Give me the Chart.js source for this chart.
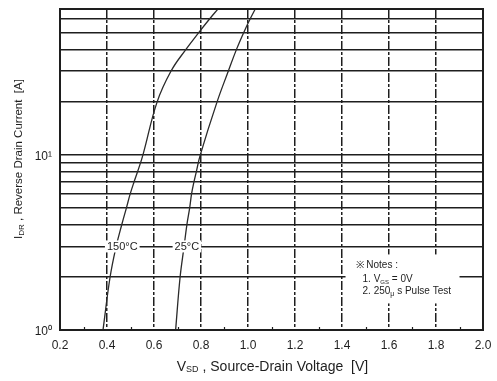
<!DOCTYPE html>
<html>
<head>
<meta charset="utf-8">
<script src="https://cdn.jsdelivr.net/npm/chart.js@4/dist/chart.umd.min.js"></script>
<style>
  html, body { margin: 0; padding: 0; background: #fff; }
  #wrap { width: 497px; height: 381px; }
</style>
</head>
<body>
<div id="wrap"><canvas id="c" width="497" height="381"></canvas></div>
<script>
// Reverse drain current levels (A) and the source-drain voltage (V) at each level
const currentLevels = [1, 2, 3, 4, 5, 6, 7, 8, 10, 20, 30, 40, 50, 60, 68];
const vsdAt150C = [0.383, 0.413, 0.439, 0.463, 0.483, 0.499, 0.515, 0.530, 0.553, 0.613, 0.672, 0.736, 0.791, 0.838, 0.872];
const vsdAt25C  = [0.692, 0.711, 0.728, 0.740, 0.752, 0.760, 0.770, 0.780, 0.797, 0.868, 0.916, 0.951, 0.982, 1.010, 1.031];

// Axis ticks
const xTicks = [0.2, 0.3, 0.4, 0.5, 0.6, 0.7, 0.8, 0.9, 1.0, 1.1, 1.2, 1.3, 1.4, 1.5, 1.6, 1.7, 1.8, 1.9, 2.0];
const yTicks = [1, 2, 3, 4, 5, 6, 7, 8, 9, 10, 20, 30, 40, 50, 60, 68];
const yTickLabels = { 1: '10\u2070', 10: '10\u00B9' };

const seriesNames = ['150\u00B0C', '25\u00B0C'];

const FONT = 'Liberation Sans, Arial, Helvetica, sans-serif';
const INK = '#1e1e1e';

const toPoints = (vs) => vs.map((v, i) => ({ x: v, y: currentLevels[i] }));
const isMajorX = (v) => Math.round(v * 10) % 2 === 0;

// Draws a run of text pieces (some as subscripts), aligned around (x, y)
function drawRuns(ctx, runs, x, y, align) {
  let total = 0;
  runs.forEach(r => {
    ctx.font = r.size + 'px ' + FONT;
    r.w = ctx.measureText(r.t).width;
    total += r.w;
  });
  let cx = align === 'center' ? x - total / 2 : x;
  ctx.textBaseline = 'middle';
  ctx.textAlign = 'left';
  runs.forEach(r => {
    ctx.font = r.size + 'px ' + FONT;
    ctx.fillText(r.t, cx, y + (r.dy || 0));
    cx += r.w;
  });
  return total;
}

const decor = {
  id: 'decor',
  afterDraw(chart) {
    const { ctx, chartArea: a, scales: { x, y } } = chart;
    ctx.save();
    ctx.fillStyle = INK;
    ctx.strokeStyle = INK;

    // minor x ticks along the bottom edge
    ctx.lineWidth = 1.2;
    xTicks.filter(v => !isMajorX(v)).forEach(v => {
      const px = Math.round(x.getPixelForValue(v)) + 0.5;
      ctx.beginPath();
      ctx.moveTo(px, a.bottom);
      ctx.lineTo(px, a.bottom - 3);
      ctx.stroke();
    });

    // plot frame
    ctx.lineWidth = 2;
    ctx.strokeRect(a.left, a.top, a.right - a.left, a.bottom - a.top);

    // curve labels on a white ground
    const labelY = y.getPixelForValue(3);
    ctx.font = '11px ' + FONT;
    [[0.465, seriesNames[0]], [0.740, seriesNames[1]]].forEach(([v, t]) => {
      const cx = x.getPixelForValue(v);
      const w = ctx.measureText(t).width;
      ctx.fillStyle = '#fff';
      ctx.fillRect(cx - w / 2 - 2, labelY - 6, w + 4, 12);
      ctx.fillStyle = INK;
      ctx.textAlign = 'center';
      ctx.textBaseline = 'middle';
      ctx.fillText(t, cx, labelY + 1);
    });

    // notes block
    const nx = x.getPixelForValue(1.415);
    const ny = y.getPixelForValue(2.7);
    ctx.fillStyle = '#fff';
    ctx.fillRect(nx, ny, 114, 49);
    ctx.fillStyle = INK;
    drawRuns(ctx, [{ t: '\u203B Notes :', size: 10 }], nx + 10, ny + 11, 'left');
    drawRuns(ctx, [{ t: '1. V', size: 10 }, { t: 'GS', size: 6, dy: 3 }, { t: ' = 0V', size: 10 }], nx + 17, ny + 25, 'left');
    drawRuns(ctx, [{ t: '2. 250', size: 10 }, { t: '\u03BC', size: 7, dy: 3 }, { t: ' s Pulse Test', size: 10 }], nx + 17, ny + 37, 'left');

    // axis titles
    drawRuns(ctx, [{ t: 'V', size: 14 }, { t: 'SD', size: 9, dy: 3 }, { t: ' , Source-Drain Voltage  [V]', size: 14 }],
      (a.left + a.right) / 2 + 1, 367, 'center');
    ctx.translate(19, 159);
    ctx.rotate(-Math.PI / 2);
    drawRuns(ctx, [{ t: 'I', size: 11.5 }, { t: 'DR', size: 8, dy: 3 }, { t: ' , Reverse Drain Current  [A]', size: 11.5 }],
      0, 0, 'center');
    ctx.restore();
  }
};

new Chart(document.getElementById('c'), {
  type: 'line',
  data: {
    datasets: [
      { label: seriesNames[0], data: toPoints(vsdAt150C) },
      { label: seriesNames[1], data: toPoints(vsdAt25C) }
    ]
  },
  options: {
    responsive: false,
    animation: false,
    devicePixelRatio: 1,
    layout: { padding: { left: 0, right: 14, top: 9, bottom: 0 } },
    elements: {
      line: { borderColor: '#2a2a2a', borderWidth: 1.3, tension: 0.4, fill: false },
      point: { radius: 0, hoverRadius: 0 }
    },
    plugins: { legend: { display: false }, tooltip: { enabled: false } },
    scales: {
      x: {
        type: 'linear',
        min: 0.2,
        max: 2.0,
        afterBuildTicks: (s) => { s.ticks = xTicks.map(v => ({ value: v })); },
        afterFit: (s) => { s.height = 51; s.paddingLeft = 0; s.paddingRight = 0; },
        grid: {
          drawTicks: false,
          lineWidth: 1.5,
          color: (c) => (c.tick && isMajorX(c.tick.value) && c.tick.value > 0.25 && c.tick.value < 1.95) ? INK : 'rgba(0,0,0,0)'
        },
        border: { display: false, dash: [9, 2, 3, 2] },
        ticks: {
          autoSkip: false,
          maxRotation: 0,
          padding: 8,
          color: INK,
          font: { family: FONT, size: 12 },
          callback: (v) => isMajorX(v) ? Number(v).toFixed(1) : ''
        }
      },
      y: {
        type: 'logarithmic',
        min: 1,
        max: 68,
        afterBuildTicks: (s) => { s.ticks = yTicks.map(v => ({ value: v })); },
        afterFit: (s) => { s.width = 60; s.paddingTop = 0; s.paddingBottom = 0; },
        grid: { drawTicks: false, lineWidth: 1.6, color: INK },
        border: { display: false },
        ticks: {
          autoSkip: false,
          padding: 8,
          labelOffset: 2,
          color: INK,
          font: { family: FONT, size: 12 },
          callback: (v) => yTickLabels[v] || ''
        }
      }
    }
  },
  plugins: [decor]
});
</script>
</body>
</html>
